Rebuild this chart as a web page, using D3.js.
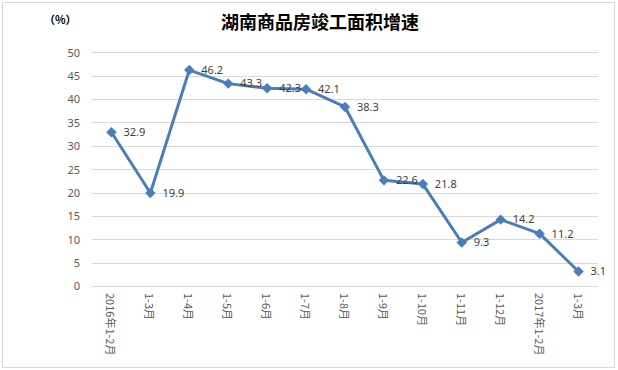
<!DOCTYPE html>
<html>
<head>
<meta charset="utf-8">
<script src="https://cdn.jsdelivr.net/npm/d3@7"></script>
<style>
  body { margin: 0; background: #fff; }
  text { font-family: "Noto Sans CJK SC", "Noto Sans", sans-serif; }
</style>
</head>
<body>
<div id="chart"></div>
<script>
var categories = ["2016年1-2月", "1-3月", "1-4月", "1-5月", "1-6月", "1-7月", "1-8月", "1-9月", "1-10月", "1-11月", "1-12月", "2017年1-2月", "1-3月"];
var growth = [32.9, 19.9, 46.2, 43.3, 42.3, 42.1, 38.3, 22.6, 21.8, 9.3, 14.2, 11.2, 3.1];
var yTicks = [0, 5, 10, 15, 20, 25, 30, 35, 40, 45, 50];

var width = 618,
  height = 370;

var svg = d3.select("#chart")
  .append("svg")
  .attr("width", width)
  .attr("height", height);

// outer frame
svg.append("rect")
  .attr("x", 2.5).attr("y", 2.5)
  .attr("width", width - 6).attr("height", height - 5)
  .attr("fill", "#fff")
  .attr("stroke", "#d9d9d9");

var data = categories.map(function (c, i) { return { key: i, label: c, value: growth[i] } })

var x = d3.scaleBand()
  .domain(data.map(function (d) { return d.key }))
  .range([92, 598]);

var y = d3.scaleLinear().domain([0, 50]).range([286, 52.3]);

// gridlines
svg.append("g")
  .selectAll("line")
  .data(yTicks)
  .enter()
  .append("line")
  .attr("x1", 92).attr("x2", 598)
  .attr("y1", function (d) { return Math.round(y(d)) + 0.5 })
  .attr("y2", function (d) { return Math.round(y(d)) + 0.5 })
  .attr("stroke", "#d9d9d9")
  .attr("stroke-width", 1);

// y axis labels
var yAxis = d3.axisLeft(y).tickValues(yTicks).tickSize(0).tickPadding(0);
var gy = svg.append("g").attr("transform", "translate(80,0)").call(yAxis);
gy.select(".domain").remove();
gy.selectAll("text")
  .attr("font-size", 11)
  .attr("fill", "#595959")
  .attr("dy", "0.35em")
  .style("font-family", "'Noto Sans', sans-serif");

// x axis labels (vertical, top to bottom)
var xAxis = d3.axisBottom(x).tickSize(0).tickFormat(function (k) { return categories[k] });
var gx = svg.append("g").attr("transform", "translate(0,286)").call(xAxis);
gx.select(".domain").remove();
gx.selectAll("text")
  .attr("font-size", 11)
  .attr("fill", "#595959")
  .attr("text-anchor", "start")
  .attr("dy", null)
  .attr("y", 0)
  .attr("transform", "translate(-5,7) rotate(90)");

// line
var line = d3.line()
  .x(function (d) { return x(d.key) + x.bandwidth() / 2 })
  .y(function (d) { return y(d.value) });

svg.append("path")
  .datum(data)
  .attr("d", line)
  .attr("fill", "none")
  .attr("stroke", "#4a7ebb")
  .attr("stroke-width", 3)
  .attr("stroke-linejoin", "round");

svg.append("g")
  .selectAll("path")
  .data(data)
  .enter()
  .append("path")
  .attr("d", d3.symbol().type(d3.symbolDiamond2).size(70))
  .attr("transform", function (d) { return "translate(" + (x(d.key) + x.bandwidth() / 2) + "," + y(d.value) + ")" })
  .attr("fill", "#4a7ebb");

// data labels
svg.append("g")
  .selectAll("text")
  .data(data)
  .enter()
  .append("text")
  .attr("x", function (d) { return x(d.key) + x.bandwidth() / 2 + 12 })
  .attr("y", function (d) { return y(d.value) })
  .attr("dy", "0.35em")
  .attr("font-size", 11)
  .attr("fill", "#404040")
  .style("font-family", "'Noto Sans', sans-serif")
  .text(function (d) { return d.value.toFixed(1) });

// title and unit
svg.append("text")
  .attr("x", 320).attr("y", 29)
  .attr("text-anchor", "middle")
  .attr("font-size", 18)
  .attr("font-weight", "bold")
  .attr("fill", "#000")
  .text("湖南商品房竣工面积增速");

svg.append("text")
  .attr("x", 44).attr("y", 24)
  .attr("font-size", 11)
  .attr("font-weight", "bold")
  .attr("fill", "#000")
  .text("（%）");
</script>
</body>
</html>
